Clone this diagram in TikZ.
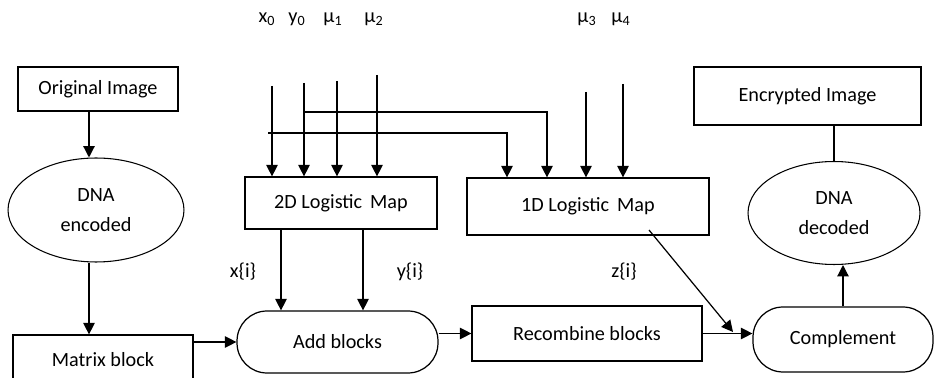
\documentclass[tikz,border=0pt]{standalone}
\usepackage{fontspec}
\setmainfont{Carlito}
\usetikzlibrary{arrows.meta,shapes.geometric}

\tikzset{
    blockbox/.style={draw, line width=0.7pt, rectangle, inner sep=0pt, font=\fontsize{11.5}{17}\selectfont},
    ovalbox/.style={draw, line width=0.6pt, ellipse, inner sep=0pt, align=center, font=\fontsize{11.5}{17}\selectfont},
    roundbox/.style={draw, line width=0.7pt, rectangle, rounded corners=0.6cm, inner sep=0pt, font=\fontsize{11.5}{17}\selectfont},
    flow/.style={draw, line width=0.7pt, -{Triangle[length=6.5pt,width=6.5pt]}},
    plain/.style={draw, line width=0.7pt},
    param/.style={inner sep=0pt, font=\fontsize{11.5}{14}\selectfont},
}

\begin{document}
\begin{tikzpicture}[x=0.02cm, y=-0.02cm]
        \useasboundingbox (0,0) rectangle (934,378);

        % boxes
        \node[blockbox, minimum width=3.2cm, minimum height=0.88cm] (orig) at (98,89) {Original Image};
        \node[ovalbox, minimum width=3.52cm, minimum height=2.08cm] (enc) at (96,210) {DNA\\encoded};
        \node[blockbox, minimum width=3.6cm, minimum height=1cm] (matrix) at (103,360) {Matrix block};
        \node[blockbox, minimum width=3.84cm, minimum height=1.04cm] (map2) at (341,203) {2D Logistic\, Map};
        \node[blockbox, minimum width=4.84cm, minimum height=1.14cm] (map1) at (588,206.5) {1D Logistic\, Map};
        \node[roundbox, minimum width=4.02cm, minimum height=1.24cm] (add) at (337.5,342) {Add blocks};
        \node[blockbox, minimum width=4.6cm, minimum height=1.1cm] (rec) at (587,333.5) {Recombine blocks};
        \node[roundbox, minimum width=3.6cm, minimum height=1.3cm] (comp) at (843,339.5) {Complement};
        \node[ovalbox, minimum width=3.44cm, minimum height=2.06cm] (dec) at (834,213) {DNA\\decoded};
        \node[blockbox, minimum width=4.54cm, minimum height=1.16cm] (encimg) at (807.5,96) {Encrypted Image};

        % parameters
        \node[param] (px) at (267,19) {x\textsubscript{0}};
        \node[param] (py) at (297,19) {y\textsubscript{0}};
        \node[param] (pa) at (333,19) {μ\textsubscript{1}};
        \node[param] (pb) at (374,19) {μ\textsubscript{2}};
        \node[param] (pc) at (587,19) {μ\textsubscript{3}};
        \node[param] (pd) at (621,19) {μ\textsubscript{4}};

        \node[param] (xi) at (243,272) {x\{i\}};
        \node[param] (yi) at (410,272) {y\{i\}};
        \node[param] (zi) at (624,272) {z\{i\}};

        % free ends of the input arrows
        \coordinate (tx) at (272,86);
        \coordinate (ty) at (304,83);
        \coordinate (ta) at (337,81);
        \coordinate (tb) at (377,75);
        \coordinate (tc) at (586,92);
        \coordinate (td) at (623,84);
        \coordinate (hy) at (304,112);
        \coordinate (dy) at (547,112);
        \coordinate (hx) at (268,133);
        \coordinate (dx) at (507,133);
        \coordinate (gl) at (89,0);
        \coordinate (gx) at (281,0);
        \coordinate (gy) at (363,0);
        \coordinate (zs) at (649,230);
        \coordinate (zt) at (733,332);

        \draw[flow] (tx) -- (tx |- map2.north);
        \draw[flow] (ty) -- (ty |- map2.north);
        \draw[flow] (ta) -- (ta |- map2.north);
        \draw[flow] (tb) -- (tb |- map2.north);
        \draw[flow] (hy) -- (dy) -- (dy |- map1.north);
        \draw[flow] (hx) -- (dx) -- (dx |- map1.north);
        \draw[flow] (tc) -- (tc |- map1.north);
        \draw[flow] (td) -- (td |- map1.north);

        % main flow
        \draw[flow] (gl |- orig.south) -- (gl |- enc.north);
        \draw[flow] (gl |- enc.south) -- (gl |- matrix.north);
        \draw[flow] (matrix.east |- add.west) -- (add.west);
        \draw[flow] (gx |- map2.south) -- (gx |- add.north);
        \draw[flow] (gy |- map2.south) -- (gy |- add.north);
        \draw[flow] (rec.west -| add.east) -- (rec.west);
        \draw[flow] (rec.east) -- (rec.east -| comp.west);
        \draw[flow] (zs) -- (zt);
        \draw[flow] (comp.north) -- (comp.north |- dec.south);
        \draw[plain] (encimg.south -| dec.north) -- (dec.north);
\end{tikzpicture}
\end{document}
